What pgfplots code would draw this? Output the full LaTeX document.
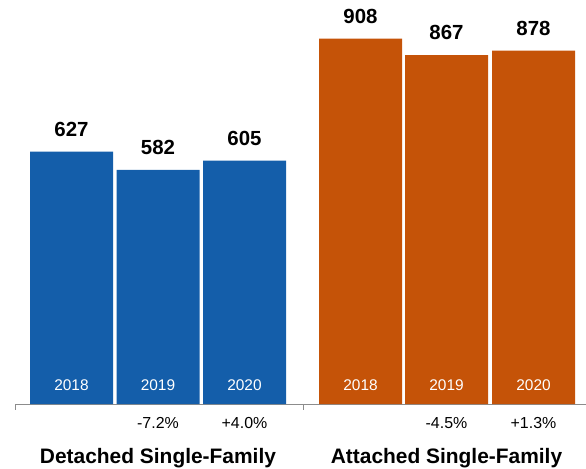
\documentclass[border=0pt]{standalone}
\usepackage{pgfplots}
\pgfplotsset{compat=1.18}
\usepackage{fontspec}
\setmainfont{Liberation Sans}
\definecolor{cblue}{RGB}{20,94,170}
\definecolor{corange}{RGB}{197,83,8}
\definecolor{axgray}{RGB}{140,140,140}
\begin{document}
\begin{tikzpicture}
\begin{axis}[
  scale only axis,
  width=571bp, height=404bp,
  xmin=15, xmax=586, ymin=0, ymax=1004,
  axis x line*=bottom, axis y line=none,
  x axis line style={axgray, line width=0.8bp},
  xtick={15,303}, xticklabels={},
  tick align=outside, major tick length=6bp,
  tick style={axgray, line width=0.8bp},
  ytick=\empty,
  clip=false,
  /pgf/number format/assume math mode=true,
]
% Detached
\addplot[ybar, bar width=83bp, bar shift=0pt, fill=cblue, draw=none,
  nodes near coords={\pgfmathprintnumber[assume math mode=true]{\pgfplotspointmeta}},
  nodes near coords style={anchor=base, inner sep=0pt, yshift=15.3bp, font=\bfseries\fontsize{20.5}{20.5}\selectfont, text=black}]
  coordinates {(71.5,627) (158,582) (244.5,605)};
% Attached
\addplot[ybar, bar width=83bp, bar shift=0pt, fill=corange, draw=none,
  nodes near coords={\pgfmathprintnumber[assume math mode=true]{\pgfplotspointmeta}},
  nodes near coords style={anchor=base, inner sep=0pt, yshift=15.3bp, font=\bfseries\fontsize{20.5}{20.5}\selectfont, text=black}]
  coordinates {(360.5,908) (446.5,867) (533.5,878)};
% Year labels inside bars
\addplot[draw=none, mark=none, point meta=explicit symbolic, nodes near coords,
  nodes near coords style={anchor=base, inner sep=0pt, yshift=14bp, font=\fontsize{15.5}{15.5}\selectfont, text=white}]
  coordinates {(71.5,0)[2018] (158,0)[2019] (244.5,0)[2020] (360.5,0)[2018] (446.5,0)[2019] (533.5,0)[2020]};
% Percent changes
\addplot[draw=none, mark=none, point meta=explicit symbolic, nodes near coords,
  nodes near coords style={anchor=base, inner sep=0pt, yshift=-24bp, font=\fontsize{16}{16}\selectfont, text=black}]
  coordinates {(158,0)[-7.2\%] (244.5,0)[+4.0\%] (446.5,0)[-4.5\%] (533.5,0)[+1.3\%]};
% Group labels
\addplot[draw=none, mark=none, point meta=explicit symbolic, nodes near coords,
  nodes near coords style={anchor=base, inner sep=0pt, yshift=-59bp, font=\bfseries\fontsize{21}{21}\selectfont, text=black}]
  coordinates {(158,0)[Detached Single-Family] (446.5,0)[Attached Single-Family]};
\end{axis}
\pgfresetboundingbox
\path[use as bounding box] (-15bp,-65bp) rectangle (571bp,404bp);
\end{tikzpicture}
\end{document}
